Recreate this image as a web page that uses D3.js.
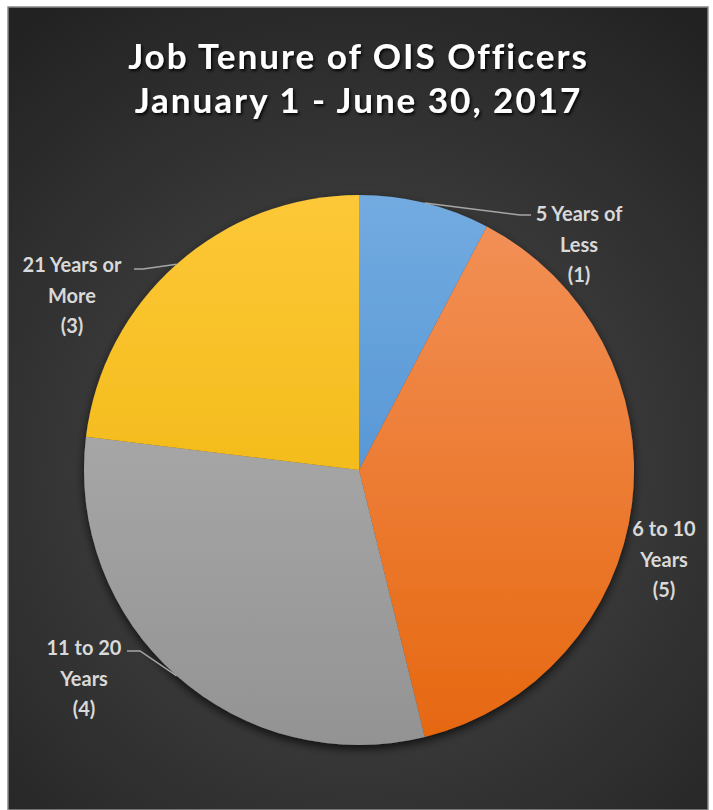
<!DOCTYPE html>
<html>
<head>
<meta charset="utf-8">
<script src="https://cdn.jsdelivr.net/npm/d3@7/dist/d3.min.js"></script>
<style>
  html, body { margin: 0; padding: 0; background: #fff; }
  svg { display: block; }
</style>
</head>
<body>
<div id="chart"></div>
<script>
// ---- data ----
const titleLines = ["Job Tenure of OIS Officers", "January 1 - June 30, 2017"];
const categories = ["5 Years of Less", "6 to 10 Years", "11 to 20 Years", "21 Years or More"];
const values = [1, 5, 4, 3];
const labelLines = [
  ["5 Years of", "Less", "(1)"],
  ["6 to 10", "Years", "(5)"],
  ["11 to 20", "Years", "(4)"],
  ["21 Years or", "More", "(3)"]
];
const colorsTop = ["#72abe0", "#f3925a", "#b5b5b5", "#fdc838"];
const colorsBottom = ["#3f85cc", "#e6670f", "#939393", "#ebb000"];

// ---- layout ----
const W = 713, H = 810;
const cx = 359, cy = 470, R = 275;
// label anchors (center x, first baseline y) and leader hinge
const labelLayout = [
  {x: 579, y: 221, leader: true, hx: 520, lx: 531, ly: 215},
  {x: 664, y: 536, leader: false},
  {x: 84,  y: 655, leader: true, hx: 140, lx: 127, ly: 651},
  {x: 72,  y: 272, leader: true, hx: 143, lx: 134, ly: 269}
];

const svg = d3.select("#chart").append("svg").attr("width", W).attr("height", H);
const defs = svg.append("defs");

const bg = defs.append("radialGradient").attr("id", "bg")
  .attr("gradientUnits", "userSpaceOnUse")
  .attr("cx", 360).attr("cy", 470).attr("r", 560);
bg.append("stop").attr("offset", "0").attr("stop-color", "#4c4c4c");
bg.append("stop").attr("offset", "1").attr("stop-color", "#222222");

const sh = defs.append("filter").attr("id", "pieShadow")
  .attr("x", "-20%").attr("y", "-20%").attr("width", "140%").attr("height", "140%");
sh.append("feDropShadow").attr("dx", 0).attr("dy", 4).attr("stdDeviation", 5)
  .attr("flood-color", "#000").attr("flood-opacity", 0.7);

const ts = defs.append("filter").attr("id", "textShadow")
  .attr("x", "-10%").attr("y", "-30%").attr("width", "120%").attr("height", "160%");
ts.append("feDropShadow").attr("dx", 1.5).attr("dy", 2).attr("stdDeviation", 1.5)
  .attr("flood-color", "#000").attr("flood-opacity", 0.9);

categories.forEach((c, i) => {
  const g = defs.append("linearGradient").attr("id", "g" + i)
    .attr("gradientUnits", "userSpaceOnUse")
    .attr("x1", 0).attr("y1", -R).attr("x2", 0).attr("y2", R);
  g.append("stop").attr("offset", "0").attr("stop-color", colorsTop[i]);
  g.append("stop").attr("offset", "1").attr("stop-color", colorsBottom[i]);
});

// background frame
svg.append("rect").attr("x", 8).attr("y", 7).attr("width", 700).attr("height", H - 7)
  .attr("fill", "url(#bg)").attr("stroke", "#8a8a8a").attr("stroke-width", 1.5);

// title
const title = svg.append("text").attr("text-anchor", "middle")
  .attr("font-family", "Lato, 'Open Sans', sans-serif").attr("font-weight", "bold")
  .attr("font-size", 35).attr("fill", "#ffffff").attr("letter-spacing", 2)
  .attr("filter", "url(#textShadow)");
titleLines.forEach((t, i) => {
  title.append("tspan").attr("x", W / 2 + 2).attr("y", 69 + i * 44).text(t);
});

// pie
const pie = d3.pie().sort(null).value(d => d)(values);
const arc = d3.arc().innerRadius(0).outerRadius(R);
const pg = svg.append("g").attr("transform", `translate(${cx},${cy})`);
pg.append("g").attr("filter", "url(#pieShadow)")
  .selectAll("path").data(pie).join("path")
  .attr("d", arc)
  .attr("fill", (d, i) => `url(#g${i})`);

// leader lines
pie.forEach((d, i) => {
  const L = labelLayout[i];
  if (!L.leader) return;
  const mid = (d.startAngle + d.endAngle) / 2;
  const px = cx + R * Math.sin(mid), py = cy - R * Math.cos(mid);
  svg.append("polyline")
    .attr("points", `${L.lx},${L.ly} ${L.hx},${L.ly} ${px},${py}`)
    .attr("fill", "none").attr("stroke", "#a6a6a6").attr("stroke-width", 1.5);
});

// labels
labelLines.forEach((lines, i) => {
  const L = labelLayout[i];
  const t = svg.append("text").attr("text-anchor", "middle")
    .attr("font-family", "Lato, 'Open Sans', sans-serif").attr("font-weight", "bold")
    .attr("font-size", 20).attr("fill", "#d9d9d9");
  lines.forEach((s, j) => {
    t.append("tspan").attr("x", L.x).attr("y", L.y + j * 30.5).text(s);
  });
});
</script>
</body>
</html>
